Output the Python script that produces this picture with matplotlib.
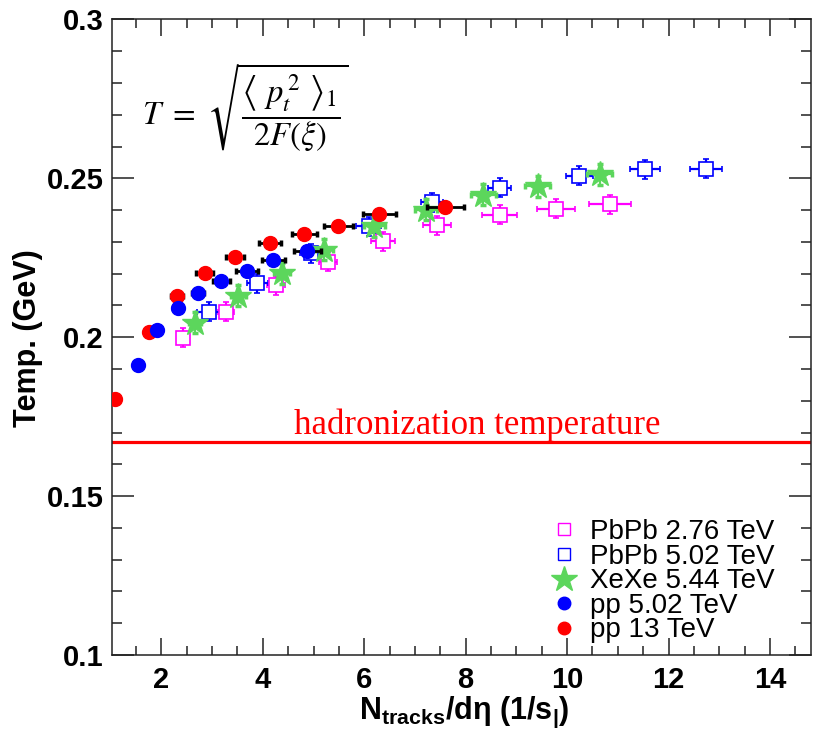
import numpy as np
import matplotlib
matplotlib.use('Agg')
import matplotlib.pyplot as plt
from matplotlib.lines import Line2D
from matplotlib.ticker import MultipleLocator

plt.rcParams['font.family'] = ['Liberation Sans', 'DejaVu Sans']
plt.rcParams['mathtext.fontset'] = 'custom'
plt.rcParams['mathtext.rm'] = 'Liberation Sans:bold'
plt.rcParams['mathtext.it'] = 'Liberation Sans:bold'
plt.rcParams['mathtext.bf'] = 'Liberation Sans:bold'

# pp 13 TeV
pp13_x = [1.09, 1.76, 2.30, 2.85, 3.45, 4.14, 4.82, 5.49, 6.30, 7.60]
pp13_y = [0.1806, 0.2016, 0.2129, 0.2202, 0.2252, 0.2298, 0.2325, 0.2349, 0.2389, 0.2410]
pp13_xerr = [0.05, 0.08, 0.12, 0.16, 0.18, 0.21, 0.24, 0.29, 0.32, 0.37]

# pp 5.02 TeV
pp5_x = [1.53, 1.92, 2.32, 2.72, 3.18, 3.69, 4.21, 4.88]
pp5_y = [0.1913, 0.2023, 0.2091, 0.2138, 0.2176, 0.2209, 0.2242, 0.2273]
pp5_xerr = [0.05, 0.07, 0.09, 0.12, 0.17, 0.21, 0.22, 0.26]

# PbPb 5.02 TeV
pb5_x = [2.93, 3.89, 4.95, 6.09, 7.33, 8.67, 10.24, 11.54, 12.74]
pb5_y = [0.2080, 0.2170, 0.2264, 0.2349, 0.2425, 0.2471, 0.2509, 0.2528, 0.2531]
pb5_xerr = [0.23, 0.21, 0.21, 0.25, 0.22, 0.23, 0.27, 0.29, 0.31]
pb5_yerr = [0.003, 0.003, 0.003, 0.003, 0.003, 0.003, 0.003, 0.003, 0.003]

# PbPb 2.76 TeV
pb2_x = [2.42, 3.28, 4.26, 5.28, 6.37, 7.43, 8.67, 9.78, 10.85]
pb2_y = [0.1998, 0.2080, 0.2163, 0.2238, 0.2302, 0.2352, 0.2386, 0.2404, 0.2418]
pb2_xerr = [0.12, 0.16, 0.18, 0.18, 0.23, 0.28, 0.35, 0.38, 0.41]
pb2_yerr = [0.003, 0.003, 0.003, 0.003, 0.003, 0.003, 0.003, 0.003, 0.003]

# XeXe 5.44 TeV
xe_x = [2.66, 3.52, 4.38, 5.21, 6.20, 7.22, 8.35, 9.42, 10.64]
xe_y = [0.2045, 0.2131, 0.2202, 0.2275, 0.2349, 0.2401, 0.2449, 0.2475, 0.2513]
xe_xerr = [0.12, 0.14, 0.16, 0.18, 0.2, 0.22, 0.24, 0.24, 0.24]
xe_yerr = [0.0033, 0.0033, 0.0033, 0.0033, 0.0033, 0.0033, 0.0033, 0.0033, 0.0033]

T_hadr = 0.167

MAG = '#ff00ff'
BLU = '#0000ff'
GRN = '#5cd65c'
RED = '#ff0000'

fig = plt.figure(figsize=(8.13, 7.4), dpi=100)
ax = fig.add_axes([111.7 / 813, 85 / 740, 699.3 / 813, 635.5 / 740])

ax.errorbar(pb2_x, pb2_y, xerr=pb2_xerr, yerr=pb2_yerr, fmt='s', ms=9.5,
            mfc='white', mec=MAG, mew=1.2, ecolor=MAG, elinewidth=1.6,
            capsize=2, capthick=2.5, zorder=3)
ax.errorbar(pb5_x, pb5_y, xerr=pb5_xerr, yerr=pb5_yerr, fmt='s', ms=9.5,
            mfc='white', mec=BLU, mew=1.2, ecolor=BLU, elinewidth=1.6,
            capsize=2, capthick=2.5, zorder=3)
ax.errorbar(xe_x, xe_y, xerr=xe_xerr, yerr=xe_yerr, fmt='*', ms=19,
            color=GRN, mec=GRN, ecolor=GRN, elinewidth=1.6,
            capsize=2, capthick=2.5, zorder=4)
ax.errorbar(pp13_x, pp13_y, xerr=pp13_xerr, fmt='o', ms=10,
            color=RED, mec=RED, ecolor='black', elinewidth=2,
            capsize=2, capthick=2.5, zorder=5)
ax.errorbar(pp5_x, pp5_y, xerr=pp5_xerr, fmt='o', ms=10,
            color=BLU, mec=BLU, ecolor='black', elinewidth=2,
            capsize=2, capthick=2.5, zorder=6)

ax.axhline(T_hadr, color=RED, lw=2.3, zorder=2)
ax.text(8.22, 0.1697, 'hadronization temperature', color=RED,
        family='Liberation Serif', fontsize=25, ha='center', va='baseline')

ax.set_xlim(1.02, 14.81)
ax.set_ylim(0.1, 0.3)
ax.xaxis.set_major_locator(MultipleLocator(2))
ax.xaxis.set_minor_locator(MultipleLocator(0.5))
ax.yaxis.set_major_locator(MultipleLocator(0.05))
ax.yaxis.set_minor_locator(MultipleLocator(0.01))
ax.set_xticks([2, 4, 6, 8, 10, 12, 14])
ax.set_xticklabels(['2', '4', '6', '8', '10', '12', '14'])
ax.set_yticks([0.1, 0.15, 0.2, 0.25, 0.3])
ax.set_yticklabels(['0.1', '0.15', '0.2', '0.25', '0.3'])
ax.tick_params(which='both', direction='in', top=True, right=True,
               width=1.1, color='#222222')
ax.tick_params(axis='y', which='major', length=15.5, labelsize=21, pad=6)
ax.tick_params(axis='y', which='minor', length=7.5)
ax.tick_params(axis='x', which='major', length=12.5, labelsize=21, pad=8)
ax.tick_params(axis='x', which='minor', length=6.3)
for lab in ax.get_xticklabels() + ax.get_yticklabels():
    lab.set_fontweight('bold')
for sp in ax.spines.values():
    sp.set_linewidth(1.1)
    sp.set_color('#222222')

fig.text(28 / 813, 1 - 338 / 740, 'Temp. (GeV)', rotation=90, fontsize=22,
         fontweight='bold', ha='center', va='center')
fig.text(464 / 813, 1 - 712 / 740, r'N$_{\mathrm{tracks}}$/dη (1/s$_{\mathrm{|}}$)',
         fontsize=22, fontweight='bold', ha='center', va='center',
         math_fontfamily='custom')

fig.text(142 / 813, 1 - 108 / 740,
         r'$T\ =\ \sqrt{\dfrac{\left\langle\ p_t^{\,2}\ \right\rangle_1}{2F(\xi)}}$',
         fontsize=23.5, ha='left', va='center', math_fontfamily='stix')

handles = [
    Line2D([], [], ls='none', marker='s', ms=8, mfc='white', mec=MAG, mew=1.0),
    Line2D([], [], ls='none', marker='s', ms=8, mfc='white', mec=BLU, mew=1.0),
    Line2D([], [], ls='none', marker='*', ms=19, color=GRN),
    Line2D([], [], ls='none', marker='o', ms=9, color=BLU),
    Line2D([], [], ls='none', marker='o', ms=9, color=RED),
]
labels = ['PbPb 2.76 TeV', 'PbPb 5.02 TeV', 'XeXe 5.44 TeV', 'pp 5.02 TeV', 'pp 13 TeV']
ax.legend(handles, labels, loc='upper left', frameon=False, fontsize=20,
          bbox_to_anchor=((550 - 111.7) / 699.3, (655 - 519) / 635.5),
          handlelength=1.0, handletextpad=0.45, labelspacing=-0.05,
          borderpad=0, borderaxespad=0)

fig.savefig('out.png', dpi=100)
